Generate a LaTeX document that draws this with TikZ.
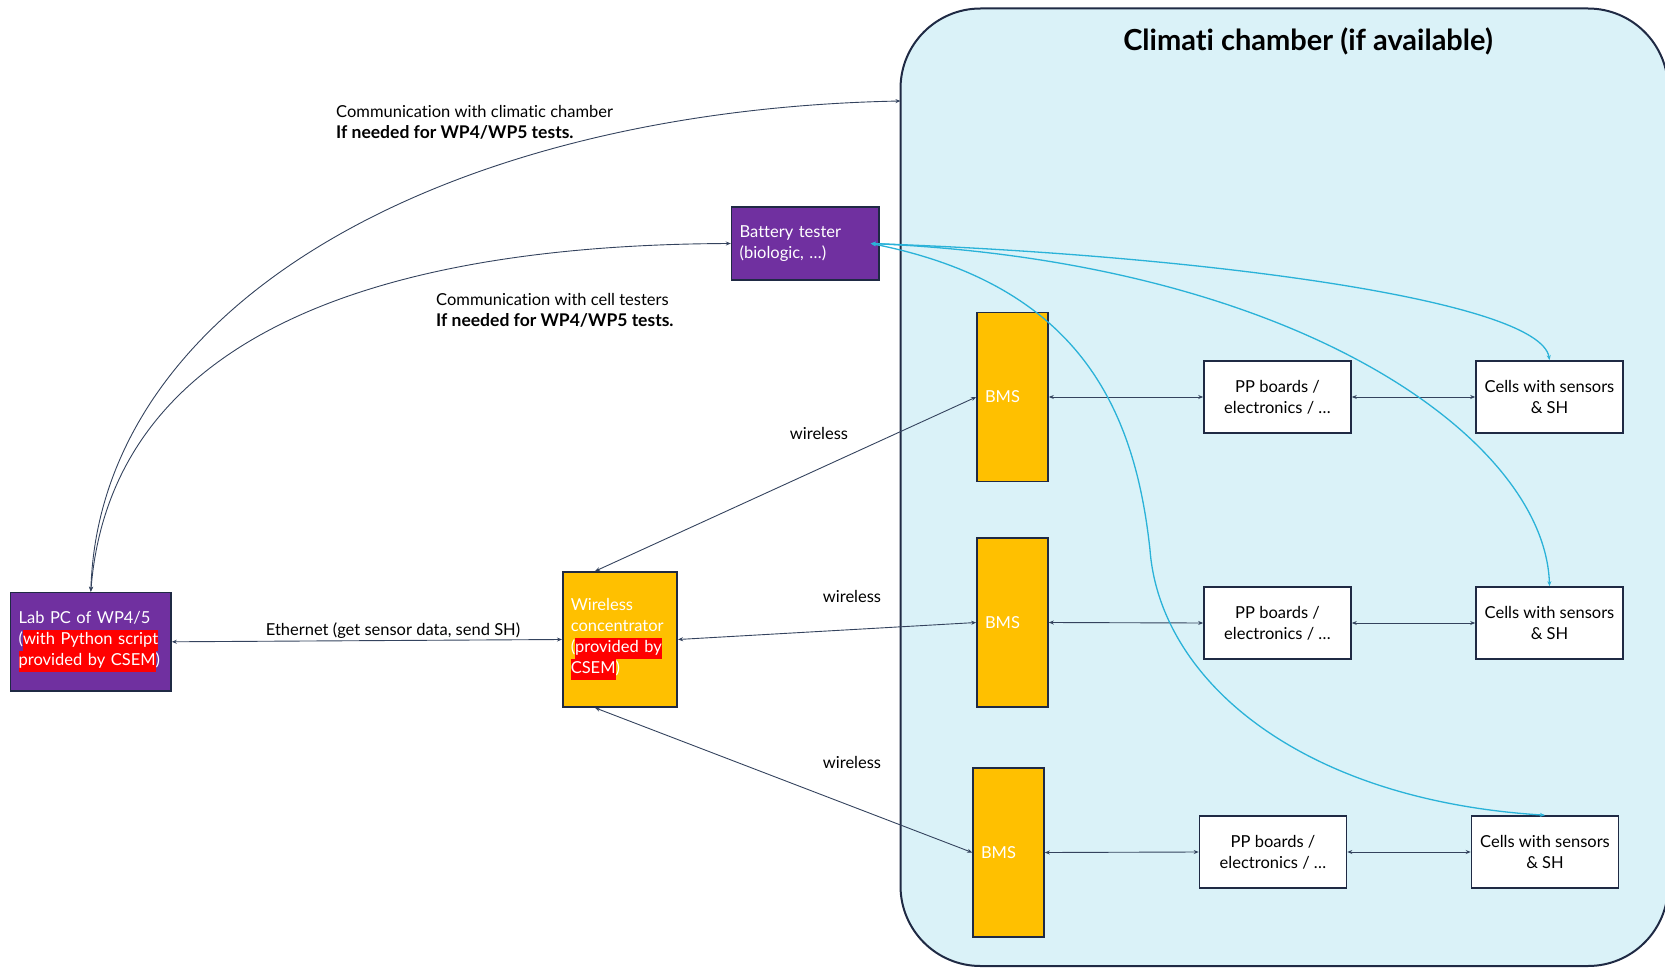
\documentclass[tikz,border=0pt]{standalone}
\usepackage{fontspec}
\setmainfont{Lato}[Ligatures=CommonOff]
\usetikzlibrary{arrows.meta}
\definecolor{navy}{HTML}{1F2A44}
\definecolor{wire}{HTML}{34435E}
\definecolor{purp}{HTML}{7030A0}
\definecolor{gold}{HTML}{FFC000}
\definecolor{chamberfill}{HTML}{DAF2F8}
\definecolor{sky}{HTML}{2AB2D8}
\definecolor{hl}{HTML}{FF0000}
\newcommand{\hlt}[1]{{\setlength{\fboxsep}{0pt}\colorbox{hl}{\strut #1}}}
\newcommand{\notebold}[1]{{\fontsize{17.5}{21}\selectfont\bfseries #1}}
\begin{document}
\begin{tikzpicture}[x=1pt,y=-1pt,
  >={Stealth[length=5pt,width=4pt]},
  every node/.style={font=\fontsize{16.5}{21}\selectfont},
  blk/.style={draw=navy, line width=1.6pt, inner ysep=0pt, inner xsep=8pt, align=left},
  whitebox/.style={draw=navy, line width=1.6pt, fill=white, inner sep=0pt, align=center,
    minimum width=147pt, minimum height=72pt},
  bmsbox/.style={draw=navy, line width=1.6pt, fill=gold, text=white, inner sep=0pt,
    minimum width=71pt, minimum height=169pt, text width=55pt, align=left},
  conn/.style={draw=wire, line width=0.9pt, <->},
  skyconn/.style={draw=sky, line width=1.3pt, <->},
  lbl/.style={text=black, inner sep=0pt}]
\useasboundingbox (0,0) rectangle (1665,968);

% climatic chamber
\draw[fill=chamberfill, draw=navy, line width=2pt, rounded corners=80pt]
  (900.5,8.5) rectangle (1668,966);
\node[font=\fontsize{29}{34}\selectfont\bfseries] (title) at (1308,41.4) {Climati chamber (if available)};
\coordinate (chin) at (900.5,101);

% equipment outside the chamber
\node[blk, fill=purp, text=white, minimum width=160.4pt, minimum height=98.5pt, text width=144.4pt]
  (pc) at (90.8,641.8) {Lab PC of WP4/5\\(\hlt{with Python script}\\\hlt{provided by CSEM})};
\node[blk, fill=gold, text=white, minimum width=114.5pt, minimum height=135pt, text width=98.5pt]
  (wc) at (620,639.5) {Wireless\\concentrator\\(\hlt{provided by}\\\hlt{CSEM})};
\node[blk, fill=purp, text=white, minimum width=147.4pt, minimum height=73pt, text width=131.4pt]
  (bt) at (805.3,243.5) {Battery tester\\(biologic, \dots)};

% BMS columns
\node[bmsbox] (bms1) at (1012.5,397) {BMS};
\node[bmsbox] (bms2) at (1012.5,622.5) {BMS};
\node[bmsbox] (bms3) at (1008.5,852.5) {BMS};

% PP boards
\node[whitebox] (pp1) at (1277.5,397) {PP boards /\\electronics / \dots};
\node[whitebox] (pp2) at (1277.5,623) {PP boards /\\electronics / \dots};
\node[whitebox] (pp3) at (1273,852) {PP boards /\\electronics / \dots};

% cells
\node[whitebox] (cell1) at (1549.5,397) {Cells with sensors\\\& SH};
\node[whitebox] (cell2) at (1549.5,623) {Cells with sensors\\\& SH};
\node[whitebox] (cell3) at (1545,852) {Cells with sensors\\\& SH};

% wired and wireless links
\draw[conn] (pc.east) -- (wc.west);
\draw[conn] ([xshift=-25pt]wc.north) -- (bms1.west);
\draw[conn] (wc.east) -- (bms2.west);
\draw[conn] ([xshift=-25pt]wc.south) -- (bms3.west);
\foreach \r in {1,2,3} {
  \draw[conn] (bms\r.east) -- (pp\r.west);
  \draw[conn] (pp\r.east) -- (cell\r.west);
}

% communication from the lab PC
\draw[conn] (pc.north) .. controls (100,300) and (450,110) .. (chin);
\draw[conn] (pc.north) .. controls (110,350) and (350,245) .. (bt.west);

% battery tester to cells
\coordinate (btport) at ([xshift=-9pt]bt.east);
\draw[skyconn] (btport) .. controls (1200,255) and (1540,300) .. (cell1.north);
\draw[skyconn] (btport) .. controls (1300,262) and (1545,440) .. (cell2.north);
\draw[skyconn] (btport) .. controls (1080,285) and (1135,410) .. (1150,550)
  .. controls (1160,680) and (1300,800) .. (cell3.north);

% labels
\node[lbl, anchor=west, align=left] (lblcc) at (336,122)
  {Communication with climatic chamber\\\notebold{If needed for WP4/WP5 tests.}};
\node[lbl, anchor=west, align=left] (lblct) at (436,310.6)
  {Communication with cell testers\\\notebold{If needed for WP4/WP5 tests.}};
\node[lbl] (lbleth) at (393,631) {Ethernet (get sensor data, send SH)};
\node[lbl] (lblw1) at (819,433) {wireless};
\node[lbl] (lblw2) at (852,596) {wireless};
\node[lbl] (lblw3) at (852,762) {wireless};
\end{tikzpicture}
\end{document}
